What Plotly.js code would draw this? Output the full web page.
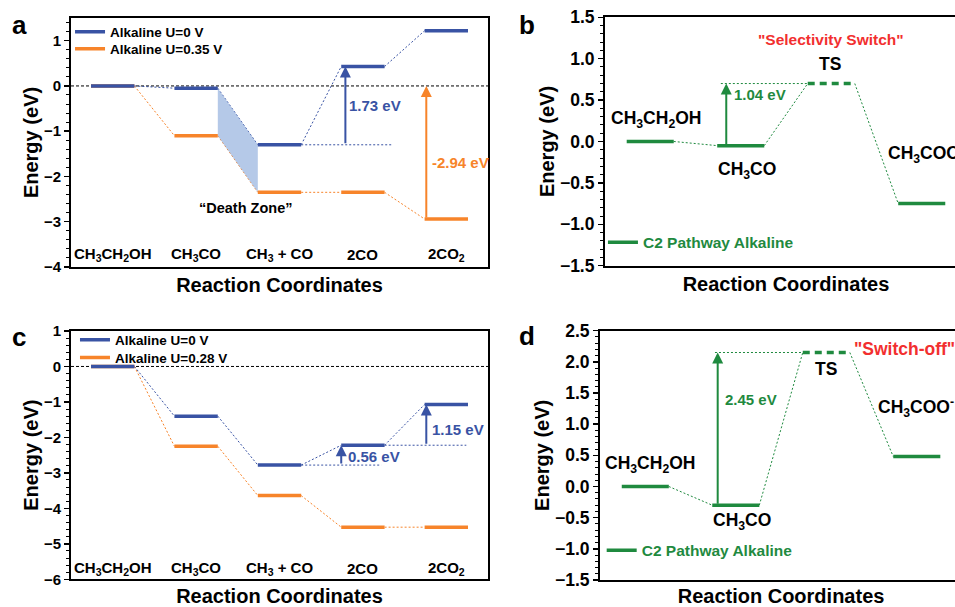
<!DOCTYPE html>
<html><head><meta charset="utf-8">
<script src="https://cdn.plot.ly/plotly-3.0.1.min.js"></script>
<style>html,body{margin:0;padding:0;overflow:hidden;background:#fff}#chart{width:970px;height:607px}</style>
</head><body><div id="chart"></div>
<script>
// ---------- data ----------
const stepsAC = ['CH<sub>3</sub>CH<sub>2</sub>OH','CH<sub>3</sub>CO','CH<sub>3</sub> + CO','2CO','2CO<sub>2</sub>'];
const aU0 = [0, -0.05, -1.30, 0.43, 1.22];
const aU35 = [0, -1.10, -2.35, -2.35, -2.94];
const cU0 = [0, -1.40, -2.78, -2.22, -1.07];
const cU28 = [0, -2.25, -3.64, -4.53, -4.53];
const stepsBD = ['CH<sub>3</sub>CH<sub>2</sub>OH','CH<sub>3</sub>CO','TS','CH<sub>3</sub>COO<sup>-</sup>'];
const bC2 = [0, -0.05, 0.70, -0.75];
const dC2 = [0, -0.30, 2.15, 0.48];
const namesA = ['Alkaline U=0 V','Alkaline U=0.35 V'];
const namesC = ['Alkaline U=0 V','Alkaline U=0.28 V'];
const nameC2 = 'C2 Pathway Alkaline';
const barriers = {a:['1.73 eV','-2.94 eV'], b:'1.04 eV', c:['0.56 eV','1.15 eV'], d:'2.45 eV'};

// ---------- style ----------
const BLUE='#3953A4', ORANGE='#F7842A', GREEN='#1F8A3F', RED='#F22F2F';
const F='Liberation Sans, Arial, sans-serif';
const fnt=(size,color)=>({family:F,size:size,color:color||'#000',weight:'bold'});
const H=0.26;

function levels(vals, skip){
  const x=[],y=[];
  vals.forEach((v,i)=>{ if(skip&&skip.includes(i)) return; x.push(i+1-H,i+1+H,null); y.push(v,v,null); });
  return {x,y};
}
function connectors(vals){
  const x=[],y=[];
  for(let i=0;i<vals.length-1;i++){ x.push(i+1+H,i+2-H,null); y.push(vals[i],vals[i+1],null); }
  return {x,y};
}
const traces=[];
function addConn(vals,color,xa,ya){ const c=connectors(vals); traces.push({x:c.x,y:c.y,xaxis:xa,yaxis:ya,mode:'lines',line:{color:color,width:1,dash:'2px,2px'},showlegend:false,hoverinfo:'skip'}); }
function addLev(vals,color,xa,ya,name,leg,skip){ const l=levels(vals,skip); traces.push({x:l.x,y:l.y,xaxis:xa,yaxis:ya,mode:'lines',line:{color:color,width:3.5},name:name,legend:leg,showlegend:!!name,hoverinfo:'skip'}); }
function addRef(x0,x1,yv,color,xa,ya){ traces.push({x:[x0,x1],y:[yv,yv],xaxis:xa,yaxis:ya,mode:'lines',line:{color:color,width:1,dash:'2px,2px'},showlegend:false,hoverinfo:'skip'}); }

// panel a
addConn(aU35,ORANGE,'x','y');
addConn(aU0,BLUE,'x','y');
traces.push({x:[2+H,3-H,3-H,2+H,2+H],y:[aU0[1],aU0[2],aU35[2],aU35[1],aU0[1]],xaxis:'x',yaxis:'y',mode:'lines',fill:'toself',fillcolor:'rgba(150,178,222,0.7)',line:{width:0},showlegend:false,hoverinfo:'skip'});
addRef(3+H,4.34,aU0[2],BLUE,'x','y');
addLev(aU35,ORANGE,'x','y',namesA[1],'legend5');
addLev(aU0,BLUE,'x','y',namesA[0],'legend');
// panel c
addConn(cU28,ORANGE,'x3','y3');
addConn(cU0,BLUE,'x3','y3');
addRef(3+H,4.22,cU0[2],BLUE,'x3','y3');
addRef(4+H,5.24,cU0[3],BLUE,'x3','y3');
addLev(cU28,ORANGE,'x3','y3',namesC[1],'legend6');
addLev(cU0,BLUE,'x3','y3',namesC[0],'legend3');
// panel b
addConn(bC2,GREEN,'x2','y2');
addRef(1.78,3-H,bC2[2],GREEN,'x2','y2');
addLev(bC2,GREEN,'x2','y2',nameC2,'legend2',[2]);
traces.push({x:[3-H,3+H],y:[bC2[2],bC2[2]],xaxis:'x2',yaxis:'y2',mode:'lines',line:{color:GREEN,width:3.5,dash:'7px,5px'},showlegend:false,hoverinfo:'skip'});
// panel d
addConn(dC2,GREEN,'x4','y4');
addRef(1.77,3-H,dC2[2],GREEN,'x4','y4');
addLev(dC2,GREEN,'x4','y4',nameC2,'legend4',[2]);
traces.push({x:[3-H,3+H],y:[dC2[2],dC2[2]],xaxis:'x4',yaxis:'y4',mode:'lines',line:{color:GREEN,width:3.5,dash:'7px,5px'},showlegend:false,hoverinfo:'skip'});

// ---------- axes ----------
function xax(dom,anchor){ return {domain:dom,anchor:anchor,range:[0.5,anchor==='y'||anchor==='y3'?5.5:4.5],showline:true,linewidth:2,linecolor:'#000',mirror:true,ticks:'',showticklabels:false,showgrid:false,zeroline:false,fixedrange:true,
  title:{text:'Reaction Coordinates',font:fnt(20),standoff:10}}; }
function yax(dom,anchor,range,dtick,fmt,tsize,standoff){ return {domain:dom,anchor:anchor,range:range,dtick:dtick,tick0:0,tickformat:fmt,showline:true,linewidth:2,linecolor:'#000',mirror:true,ticks:'outside',ticklen:5,tickwidth:1.5,tickcolor:'#000',
  minor:{ticks:'outside',ticklen:3,tickwidth:1,tickcolor:'#000',dtick:dtick/5},showgrid:false,zeroline:false,tickfont:fnt(tsize),fixedrange:true,
  title:{text:'Energy (eV)',font:fnt(20),standoff:standoff}}; }

const ann=[];
function t(text,x,y,xr,yr,font,xanchor){ ann.push({text:text,x:x,y:y,xref:xr,yref:yr,showarrow:false,font:font,xanchor:xanchor||'center',yanchor:'middle'}); }
function arrow(x,y0,y1,xr,yr,color){ ann.push({text:'',x:x,y:y1,ax:x,ay:y0,xref:xr,yref:yr,axref:xr,ayref:yr,showarrow:true,arrowhead:2,arrowsize:1.1,arrowwidth:2,arrowcolor:color,standoff:0,startstandoff:0}); }

// panel letters
t('a',0.0206,0.9588,'paper','paper',fnt(26));
t('b',0.5433,0.9588,'paper','paper',fnt(26));
t('c',0.0196,0.4448,'paper','paper',fnt(26));
t('d',0.5433,0.4465,'paper','paper',fnt(26));
// category labels a / c
stepsAC.forEach((s,i)=>{ t(s,i+1,-3.72,'x','y',fnt(15)); t(s,i+1,-5.70,'x3','y3',fnt(15)); });
// panel a annotations
t('\u201cDeath Zone\u201d',2.59,-2.69,'x','y',fnt(14.5));
arrow(3.79,aU0[2],aU0[3],'x','y',BLUE);
t(barriers.a[0],3.81,-0.44,'x','y',fnt(15,BLUE),'left');
arrow(4.76,aU35[4],0,'x','y',ORANGE);
t(barriers.a[1],4.80,-1.69,'x','y',fnt(15,ORANGE),'left');
// panel c annotations
arrow(3.74,cU0[2],cU0[3],'x3','y3',BLUE);
t(barriers.c[0],3.80,-2.55,'x3','y3',fnt(15,BLUE),'left');
arrow(4.76,cU0[3],cU0[4],'x3','y3',BLUE);
t(barriers.c[1],4.81,-1.77,'x3','y3',fnt(15,BLUE),'left');
// panel b
t(stepsBD[0],1.06,0.265,'x2','y2',fnt(17.5));
t(stepsBD[1],2.07,-0.354,'x2','y2',fnt(17.5));
t(stepsBD[2],2.99,0.94,'x2','y2',fnt(17.5));
t(stepsBD[3],3.60,-0.145,'x2','y2',fnt(17.5),'left');
t('"Selectivity Switch"',3.0,1.23,'x2','y2',fnt(15.5,RED));
arrow(1.84,bC2[1],bC2[2],'x2','y2',GREEN);
t(barriers.b,1.90,0.566,'x2','y2',fnt(15,GREEN),'left');
// panel d
t(stepsBD[0],1.05,0.36,'x4','y4',fnt(17.5));
t(stepsBD[1],2.07,-0.56,'x4','y4',fnt(17.5));
t(stepsBD[2],3.0,1.89,'x4','y4',fnt(17.5));
t(stepsBD[3],3.55,1.26,'x4','y4',fnt(17.5),'left');
t('"Switch-off"',3.28,2.21,'x4','y4',fnt(17.5,RED),'left');
arrow(1.80,dC2[1],dC2[2],'x4','y4',GREEN);
t(barriers.d,1.855,1.40,'x4','y4',fnt(15,GREEN),'left');

const zeroLine=(xr,yr)=>({type:'line',xref:xr,yref:yr,x0:0.5,x1:5.5,y0:0,y1:0,line:{color:'#000',width:1,dash:'3px,2px'},layer:'below'});
const leg=(x,ypx,font)=>({x:x,y:1-ypx/607,xanchor:'left',yanchor:'middle',bgcolor:'rgba(0,0,0,0)',font:font,itemwidth:30});

const layout={
  width:970,height:607,margin:{l:0,r:0,t:0,b:0},paper_bgcolor:'#fff',plot_bgcolor:'rgba(0,0,0,0)',
  xaxis:xax([0.0732,0.5031],'y'), yaxis:yax([0.5601,0.9703],'x',[-4,1.5],1,'d',15,0),
  xaxis2:xax([0.6237,0.9969],'y2'), yaxis2:yax([0.5623,0.9715],'x2',[-1.5,1.5],0.5,'.1f',17.5,0),
  xaxis3:xax([0.0732,0.5031],'y3'), yaxis3:yax([0.0456,0.4547],'x3',[-6,1],1,'d',15,0),
  xaxis4:xax([0.6186,0.9918],'y4'), yaxis4:yax([0.0445,0.4552],'x4',[-1.5,2.5],0.5,'.1f',17.5,0),
  legend:leg(0.0722,32,fnt(13.5)),
  legend5:leg(0.0722,49,fnt(13.5)),
  legend2:leg(0.6216,242.7,fnt(15.5,GREEN)),
  legend3:leg(0.0773,340,fnt(13.5)),
  legend6:leg(0.0773,357.7,fnt(13.5)),
  legend4:leg(0.6203,550.7,fnt(15.5,GREEN)),
  shapes:[zeroLine('x','y'),zeroLine('x3','y3')],
  annotations:ann
};
Plotly.newPlot('chart',traces,layout,{displayModeBar:false,staticPlot:true});
</script></body></html>
